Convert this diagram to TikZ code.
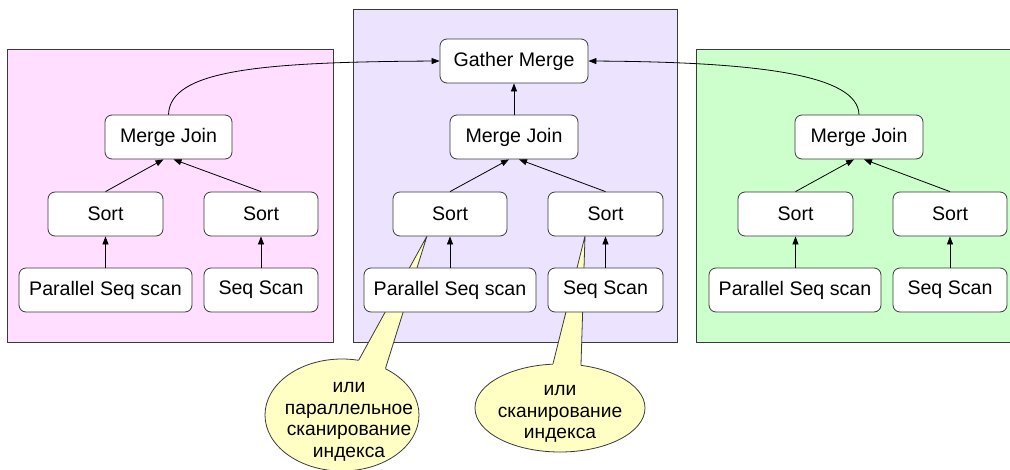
\documentclass[tikz,border=0pt]{standalone}
\usepackage{fontspec}
\setmainfont{Liberation Sans}
\usetikzlibrary{arrows.meta,calc,shapes.geometric}
\definecolor{pinkbg}{HTML}{FFDEFF}
\definecolor{lavbg}{HTML}{ECE4FF}
\definecolor{greenbg}{HTML}{CCFFCC}
\definecolor{notebg}{HTML}{FFFFC4}
\definecolor{edge}{HTML}{3A3A3A}
\tikzset{
  panel/.style={draw=edge, line width=0.9pt},
  opbox/.style={draw=edge, fill=white, line width=0.8pt, rounded corners=7pt,
    minimum height=44pt, inner sep=0pt, font=\fontsize{19.6}{23}\selectfont},
  flow/.style={draw=black, line width=0.8pt, -{Triangle[length=8pt,width=6pt]}},
  note/.style={ellipse, draw=edge, fill=notebg, line width=0.8pt, inner sep=0pt},
  notetext/.style={align=center, font=\fontsize{19.2}{21.6}\selectfont},
}
\begin{document}
\begin{tikzpicture}[x=1pt,y=-1pt]
\useasboundingbox (0,0) rectangle (1010,469);
\clip (0,0) rectangle (1010,469);
% panels
\path[panel, fill=pinkbg] (7,49) rectangle (333,342);
\path[panel, fill=lavbg] (353,9) rectangle (677,342);
\path[panel, fill=greenbg] (696,49) rectangle (1020,342);
% callouts
\node[note, minimum width=154pt, minimum height=112pt] (e1) at (342,415) {};
\node[note, minimum width=170pt, minimum height=88pt] (e2) at (560,408) {};
\coordinate (tip1) at (427,236);
\coordinate (tip2) at (585,236);
\coordinate (b1l) at (e1.73);
\coordinate (b1r) at (e1.47);
\coordinate (b2l) at (e2.99);
\coordinate (b2r) at (e2.64);
\fill[notebg] (tip1) -- (b1l) -- (e1.center) -- (b1r) -- cycle;
\fill[notebg] (tip2) -- (b2l) -- (e2.center) -- (b2r) -- cycle;
\draw[edge, line width=0.8pt] (b1l) -- (tip1) -- (b1r);
\draw[edge, line width=0.8pt] (b2l) -- (tip2) -- (b2r);
\node[notetext] (t1) at (349,422) {или\\параллельное\\сканирование\\индекса};
\node[notetext] (t2) at (560,414) {или\\сканирование\\индекса};
% left panel
\node[opbox, minimum width=127pt] (lmj) at (168.5,137) {Merge Join};
\node[opbox, minimum width=115pt] (ls1) at (105.5,214) {Sort};
\node[opbox, minimum width=114pt] (ls2) at (261,214) {Sort};
\node[opbox, minimum width=173pt] (lp) at (105.5,290) {Parallel Seq scan};
\node[opbox, minimum width=114pt] (lq) at (261,290) {Seq Scan};
% middle panel
\node[opbox, minimum width=148pt] (gm) at (514,61) {Gather Merge};
\node[opbox, minimum width=128pt] (mmj) at (514,137) {Merge Join};
\node[opbox, minimum width=114pt] (ms1) at (450,214) {Sort};
\node[opbox, minimum width=115pt] (ms2) at (605.5,214) {Sort};
\node[opbox, minimum width=172pt] (mp) at (450,290) {Parallel Seq scan};
\node[opbox, minimum width=115pt] (mq) at (605.5,290) {Seq Scan};
% right panel
\node[opbox, minimum width=128pt] (rmj) at (859,137) {Merge Join};
\node[opbox, minimum width=115pt] (rs1) at (795.5,214) {Sort};
\node[opbox, minimum width=114pt] (rs2) at (950,214) {Sort};
\node[opbox, minimum width=172pt] (rp) at (795,290) {Parallel Seq scan};
\node[opbox, minimum width=114pt] (rq) at (950,290) {Seq Scan};
% arrows
\foreach \p in {l,m,r}{
  \draw[flow] (\p s1.north) -- ($(\p mj.south)+(-5,0)$);
  \draw[flow] (\p s2.north) -- ($(\p mj.south)+(5,0)$);
  \draw[flow] (\p p.north -| \p s1.south) -- (\p s1.south);
  \draw[flow] (\p q.north) -- (\p s2.south);
}
\draw[flow] (mmj.north) -- (gm.south);
\draw[flow] (lmj.north) .. controls (170,70) and (260,62) .. (gm.west);
\draw[flow] (rmj.north) .. controls (858,75) and (760,62) .. (gm.east);
\end{tikzpicture}
\end{document}
